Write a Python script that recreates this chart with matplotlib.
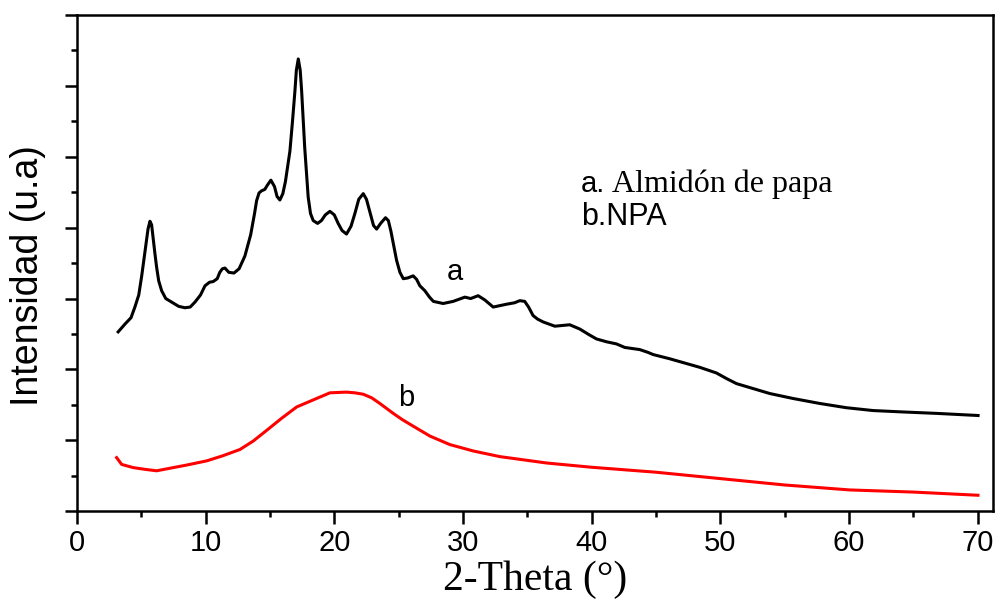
import matplotlib.pyplot as plt
from matplotlib.ticker import MultipleLocator

# curve a: almidon de papa (2-theta, intensity in arbitrary units)
theta_a = [3.2, 3.73, 4.2, 4.5, 4.8, 5.03, 5.2, 5.36, 5.52, 5.67, 5.8, 5.88, 6.06, 6.19,
           6.35, 6.58, 6.9, 7.36, 7.9, 8.39, 8.8, 9.17, 9.6, 9.95, 10.3, 10.59, 10.9,
           11.1, 11.3, 11.5, 11.8, 12.2, 12.6, 13.05, 13.5, 13.8, 13.96, 14.15, 14.35,
           14.6, 14.8, 15.07, 15.35, 15.55, 15.77, 16.0, 16.2, 16.55, 16.75, 16.94,
           17.05, 17.2, 17.35, 17.46, 17.7, 17.97, 18.15, 18.36, 18.7, 19.0, 19.3,
           19.66, 20.0, 20.3, 20.6, 20.95, 21.3, 21.6, 21.9, 22.25, 22.5, 22.8, 23.05,
           23.29, 23.6, 23.98, 24.2, 24.4, 24.84, 25.1, 25.36, 25.7, 26.13, 26.4, 26.65,
           27.04, 27.4, 27.7, 28.46, 29.24, 30.15, 30.6, 31.18, 31.7, 32.35, 33.39,
           34.0, 34.42, 34.8, 35.1, 35.45, 35.8, 36.23, 37.14, 38.3, 39.08, 39.8, 40.38,
           41.16, 41.93, 42.58, 43.74, 44.39, 44.78, 46.08, 47.63, 48.4, 49.7, 50.5,
           51.26, 52.55, 53.85, 55.66, 57.73, 59.8, 61.87, 64.2, 66.8, 68.87, 70.04]
int_a = [2.53, 2.64, 2.73, 2.88, 3.05, 3.32, 3.55, 3.77, 3.98, 4.09, 4.04, 3.91, 3.63, 3.44,
         3.25, 3.11, 3.0, 2.95, 2.89, 2.87, 2.88, 2.95, 3.05, 3.18, 3.23, 3.24, 3.28,
         3.37, 3.42, 3.43, 3.37, 3.36, 3.42, 3.6, 3.9, 4.2, 4.38, 4.49, 4.52,
         4.54, 4.6, 4.67, 4.58, 4.44, 4.39, 4.48, 4.65, 5.08, 5.5, 5.93,
         6.22, 6.38, 6.22, 5.93, 5.13, 4.43, 4.2, 4.1, 4.06, 4.1, 4.18,
         4.23, 4.18, 4.06, 3.96, 3.91, 4.02, 4.2, 4.4, 4.48, 4.4, 4.2, 4.03,
         3.98, 4.06, 4.14, 4.1, 3.95, 3.54, 3.37, 3.28, 3.29, 3.32, 3.27, 3.18,
         3.11, 3.02, 2.96, 2.93, 2.96, 3.02, 3.0, 3.04, 2.98, 2.88, 2.92,
         2.94, 2.97, 2.96, 2.88, 2.76, 2.71, 2.67, 2.61, 2.63, 2.57, 2.49, 2.43,
         2.39, 2.36, 2.31, 2.28, 2.24, 2.21, 2.15, 2.07, 2.03, 1.95, 1.87,
         1.8, 1.73, 1.66, 1.59, 1.52, 1.46, 1.42, 1.4, 1.38, 1.36, 1.35]

# curve b: NPA
theta_b = [3.08, 3.47, 4.37, 5.3, 6.19, 7.48, 8.5, 10.08, 11.3, 12.66, 13.7, 14.74,
           15.9, 17.07, 18.36, 19.66, 20.95, 21.6, 22.25, 22.9, 23.54, 24.58, 25.3,
           26.13, 27.43, 28.98, 30.79, 32.87, 36.5, 40.0, 45.0, 50.0, 55.0, 60.06,
           65.0, 70.03]
int_b = [0.756, 0.66, 0.615, 0.59, 0.57, 0.615, 0.65, 0.71, 0.78, 0.87, 0.99, 1.14,
         1.31, 1.47, 1.57, 1.67, 1.68, 1.67, 1.65, 1.6, 1.52, 1.38, 1.29,
         1.2, 1.06, 0.94, 0.85, 0.77, 0.68, 0.62, 0.55, 0.46, 0.37, 0.3,
         0.27, 0.225]

fig = plt.figure(figsize=(10, 6), dpi=100)
ax = fig.add_axes([0.077, 0.148, 0.916, 0.827])

ax.plot(theta_a, int_a, color='black', lw=2.2, solid_joinstyle='round')
ax.plot(theta_b, int_b, color='red', lw=2.2, solid_joinstyle='round')

ax.set_xlim(0, 71.2)
ax.set_ylim(0, 7)
ax.xaxis.set_major_locator(MultipleLocator(10))
ax.xaxis.set_minor_locator(MultipleLocator(5))
ax.yaxis.set_major_locator(MultipleLocator(1))
ax.yaxis.set_minor_locator(MultipleLocator(0.5))
ax.set_yticklabels([])
ax.tick_params(which='major', direction='out', length=9, width=1.8, labelsize=21,
               top=False, right=False)
ax.tick_params(which='minor', direction='out', length=4.5, width=1.8, top=False, right=False)
ax.tick_params(axis='x', pad=4)
for lab in ax.get_xticklabels():
    lab.set_family('Liberation Sans')
for s in ax.spines.values():
    s.set_linewidth(1.8)

ax.set_xlabel('2-Theta (°)', family='Liberation Serif', fontsize=30, labelpad=2)
ax.set_ylabel('Intensidad (u.a)', family='Liberation Sans', fontsize=27)
ax.yaxis.set_label_coords(-0.034, 0.475)

ax.text(29.4, 3.37, 'a', family='Liberation Sans', fontsize=21, ha='center', va='center')
ax.text(25.6, 1.59, 'b', family='Liberation Sans', fontsize=21, ha='center', va='center')

ax.text(0.55, 0.643, 'a.', transform=ax.transAxes, family='Liberation Sans',
        fontsize=21, va='baseline')
ax.text(0.584, 0.643, 'Almidón de papa', transform=ax.transAxes,
        family='Liberation Serif', fontsize=23, va='baseline')
ax.text(0.55, 0.577, 'b.NPA', transform=ax.transAxes, family='Liberation Sans',
        fontsize=22, va='baseline')

fig.savefig('out.png', dpi=100)
